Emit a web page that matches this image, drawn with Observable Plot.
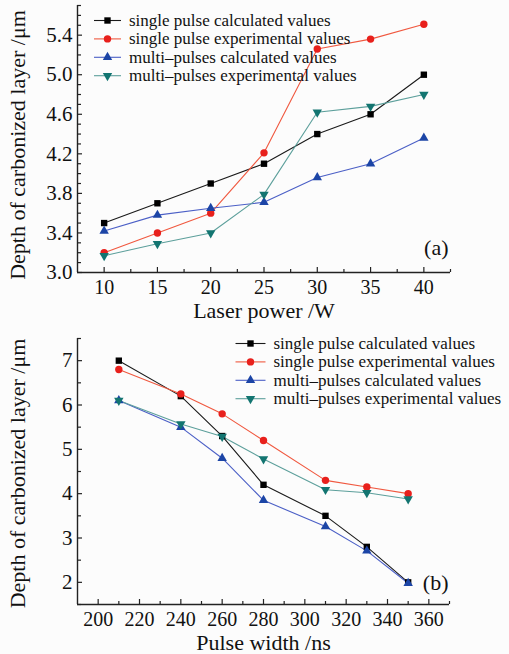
<!DOCTYPE html>
<html><head><meta charset="utf-8">
<script src="https://cdn.jsdelivr.net/npm/d3@7"></script>
<script src="https://cdn.jsdelivr.net/npm/@observablehq/plot@0.6"></script>
<style>
body{margin:0;background:#fcfcfc;}
#chart{width:509px;height:654px;position:relative;}
#chart svg{display:block;}
</style>
</head><body><div id="chart"></div>
<script>
// ---- data ----
const seriesNames = ["single pulse calculated values", "single pulse experimental values", "multi\u2013pulses calculated values", "multi\u2013pulses experimental values"];

const powerW = [10, 15, 20, 25, 30, 35, 40];
const aSingleCalc = [3.5, 3.7, 3.9, 4.1, 4.4, 4.6, 5.0];
const aSingleExp  = [3.2, 3.4, 3.6, 4.21, 5.26, 5.36, 5.51];
const aMultiCalc  = [3.42, 3.58, 3.65, 3.71, 3.96, 4.1, 4.36];
const aMultiExp   = [3.17, 3.29, 3.4, 3.79, 4.62, 4.68, 4.8];

const pulseNs = [210, 240, 260, 280, 310, 330, 350];
const bSingleCalc = [7.0, 6.2, 5.3, 4.2, 3.5, 2.8, 2.0];
const bSingleExp  = [6.8, 6.25, 5.8, 5.2, 4.3, 4.15, 4.0];
const bMultiCalc  = [6.1, 5.5, 4.8, 3.85, 3.26, 2.71, 1.98];
const bMultiExp   = [6.1, 5.57, 5.29, 4.78, 4.09, 4.02, 3.88];

const aXTicks = [10, 15, 20, 25, 30, 35, 40];
const aXMinor = [12.5, 17.5, 22.5, 27.5, 32.5, 37.5, 42.5];
const aYTicks = [3.0, 3.4, 3.8, 4.2, 4.6, 5.0, 5.4];
const aYMinor = [3.1,3.2,3.3,3.5,3.6,3.7,3.9,4.0,4.1,4.3,4.4,4.5,4.7,4.8,4.9,5.1,5.2,5.3,5.5,5.6,5.7];

const bXTicks = [200, 220, 240, 260, 280, 300, 320, 340, 360];
const bXMinor = [210, 230, 250, 270, 290, 310, 330, 350, 370];
const bYTicks = [2, 3, 4, 5, 6, 7];
const bYMinor = [1.5, 2.5, 3.5, 4.5, 5.5, 6.5, 7.5];

// ---- styles ----
const lineColors = ["#1a1a1a", "#f0583f", "#4b5fc6", "#5c9f9b"];
const markColors = ["#000000", "#e8201c", "#1c45a6", "#137571"];
const sqrt3 = Math.sqrt(3);
const downTriangle = {draw(ctx, size){ const y = Math.sqrt(size / (sqrt3 * 3)); ctx.moveTo(0, y * 2); ctx.lineTo(-sqrt3 * y, -y); ctx.lineTo(sqrt3 * y, -y); ctx.closePath(); }};
const symbols = ["square", "circle", "triangle", downTriangle];
const radii = [3.6, 3.7, 3.5, 3.5];
const legendLine = (half) => ({draw(ctx){ ctx.moveTo(-half, 0); ctx.lineTo(half, 0); }});

const FONT = "Liberation Serif";
const AXIS = "#222";

function panel(cfg) {
  const {width, height, mt, mb, ml, mr, xDomain, yDomain, xs, ys, xTicks, xMinor, yTicks, yMinor, yFmt, xTitle, yTitle, tag, tagDx, tagDy, legDx, legDy, legStep, legHalf, yTitleDy} = cfg;
  const innerW = width - ml - mr, innerH = height - mt - mb;
  const marks = [];
  marks.push(Plot.ruleX([xDomain[0]], {stroke: AXIS, strokeWidth: 1.4}));
  marks.push(Plot.ruleY([yDomain[0]], {stroke: AXIS, strokeWidth: 1.4}));
  marks.push(Plot.tickY(yTicks, {y: d => d, insetRight: innerW - 5, stroke: AXIS, strokeWidth: 1.2}));
  marks.push(Plot.tickY(yMinor, {y: d => d, insetRight: innerW - 4, stroke: AXIS, strokeWidth: 1.2}));
  marks.push(Plot.tickX(xTicks, {x: d => d, insetTop: innerH - 5, stroke: AXIS, strokeWidth: 1.2}));
  marks.push(Plot.tickX(xMinor, {x: d => d, insetTop: innerH - 3, stroke: AXIS, strokeWidth: 1.2}));
  marks.push(Plot.axisX(xTicks, {tickSize: 0, tickPadding: 7, fontSize: 20, label: null, fill: "#111"}));
  marks.push(Plot.axisY(yTicks, {tickSize: 0, tickPadding: 5, fontSize: 21, label: null, tickFormat: yFmt, fill: "#111"}));
  marks.push(Plot.text([xTitle], {text: d => d, frameAnchor: "bottom", dy: cfg.xTitleDy, fontSize: 22, fill: "#111", textAnchor: "middle", lineAnchor: "middle"}));
  marks.push(Plot.text([yTitle], {text: d => d, frameAnchor: "left", dx: -60, dy: yTitleDy, rotate: -90, fontSize: 22, fill: "#111", textAnchor: "middle", lineAnchor: "middle"}));
  ys.forEach((vals, i) => {
    const data = xs.map((x, j) => ({x, y: vals[j]}));
    marks.push(Plot.line(data, {x: "x", y: "y", stroke: lineColors[i], strokeWidth: 1.1}));
  });
  ys.forEach((vals, i) => {
    const data = xs.map((x, j) => ({x, y: vals[j]}));
    marks.push(Plot.dot(data, {x: "x", y: "y", symbol: symbols[i], r: radii[i], fill: markColors[i], stroke: "none"}));
  });
  seriesNames.forEach((name, i) => {
    const dy = legDy + i * legStep;
    marks.push(Plot.dot([name], {frameAnchor: "top-left", dx: legDx, dy, symbol: legendLine(legHalf), r: 5, fill: "none", stroke: lineColors[i], strokeWidth: 1.1}));
    marks.push(Plot.dot([name], {frameAnchor: "top-left", dx: legDx, dy, symbol: symbols[i], r: radii[i], fill: markColors[i], stroke: "none"}));
    marks.push(Plot.text([name], {text: d => d, frameAnchor: "top-left", dx: legDx + legHalf + 8, dy, textAnchor: "start", lineAnchor: "middle", fontSize: 17, fill: "#111"}));
  });
  marks.push(Plot.text([tag], {text: d => d, frameAnchor: "bottom-right", dx: tagDx, dy: tagDy, textAnchor: "end", lineAnchor: "middle", fontSize: 22, fill: "#111"}));

  return Plot.plot({
    width, height,
    marginTop: mt, marginBottom: mb, marginLeft: ml, marginRight: mr,
    x: {domain: xDomain},
    y: {domain: yDomain},
    style: {fontFamily: FONT, fontSize: "21px", background: "transparent", color: "#111", overflow: "visible"},
    marks
  });
}

const panelA = panel({
  width: 509, height: 318, mt: 5, mb: 46, ml: 77, mr: 59,
  xDomain: [7.5, 42.5], yDomain: [3.0, 5.7],
  xs: powerW, ys: [aSingleCalc, aSingleExp, aMultiCalc, aMultiExp],
  xTicks: aXTicks, xMinor: aXMinor, yTicks: aYTicks, yMinor: aYMinor,
  yFmt: d => d.toFixed(1),
  xTitle: "Laser power /W", xTitleDy: 38,
  yTitle: "Depth of carbonized layer /\u03bcm", yTitleDy: 6,
  tag: "(a)", tagDx: -2, tagDy: -25,
  legDx: 30, legDy: 15, legStep: 18.4, legHalf: 13.5
});
const panelB = panel({
  width: 509, height: 336, mt: 20, mb: 50, ml: 77, mr: 60,
  xDomain: [190, 370], yDomain: [1.5, 7.5],
  xs: pulseNs, ys: [bSingleCalc, bSingleExp, bMultiCalc, bMultiExp],
  xTicks: bXTicks, xMinor: bXMinor, yTicks: bYTicks, yMinor: bYMinor,
  yFmt: d => String(d),
  xTitle: "Pulse width /ns", xTitleDy: 38.5,
  yTitle: "Depth of carbonized layer /\u03bcm", yTitleDy: 2,
  tag: "(b)", tagDx: -1, tagDy: -22,
  legDx: 173, legDy: 5, legStep: 18.4, legHalf: 15
});
document.getElementById("chart").append(panelA, panelB);
</script></body></html>
